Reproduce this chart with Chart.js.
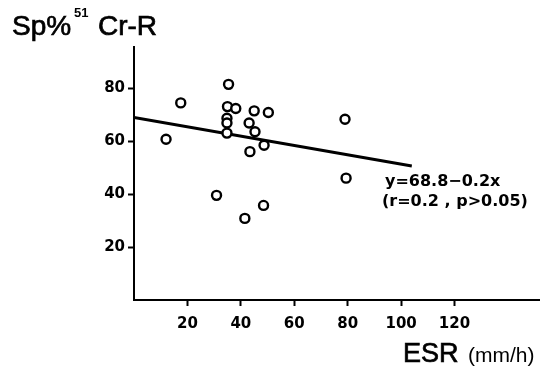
<!DOCTYPE html>
<html>
<head>
<meta charset="utf-8">
<script src="https://cdn.jsdelivr.net/npm/chart.js@4/dist/chart.umd.min.js"></script>
<style>
    html, body { margin: 0; padding: 0; background: #fff; }
    #wrap { width: 540px; height: 369px; }
</style>
</head>
<body>
<div id="wrap"><canvas id="esrChart" width="540" height="369"></canvas></div>
<script>
// ESR (mm/h) vs spleen % of 51Cr-labelled red cells
const esrValues = [12, 17.5, 35.4, 35, 38.1, 45, 50.3, 34.8, 34.8, 43.1, 34.8, 45.3, 43.4, 48.7, 30.9, 41.5, 48.5, 79, 79.4];
const spValues = [60.7, 74.4, 81.4, 73, 72.3, 71.4, 70.8, 68.6, 66.8, 66.8, 63, 63.5, 56, 58.4, 39.5, 30.8, 35.7, 68.2, 46];

// regression line as drawn in the figure
const fitX = [0, 104];
const fitY = [68.9, 50.6];

const xTicks = [20, 40, 60, 80, 100, 120];
const yTicks = [20, 40, 60, 80];
const fitLabel = ['y=68.8\u22120.2x', '(r=0.2 , p>0.05)'];

document.addEventListener('DOMContentLoaded', function() {
    const ctx = document.getElementById('esrChart').getContext('2d');

    // Axis titles and the regression note
    const textPlugin = {
        id: 'textPlugin',
        afterDraw(chart) {
            const c = chart.ctx;
            c.save();
            c.fillStyle = '#000';
            c.strokeStyle = '#000';
            c.lineWidth = 0.7;
            c.textBaseline = 'alphabetic';
            c.textAlign = 'left';

            // slight stroke to thicken the regular face
            c.font = '28px "Liberation Sans", Arial, sans-serif';
            c.fillText('Sp%', 12, 35);
            c.strokeText('Sp%', 12, 35);
            c.fillText('Cr-R', 98, 35);
            c.strokeText('Cr-R', 98, 35);
            c.font = 'bold 13px "Liberation Sans", Arial, sans-serif';
            c.fillText('51', 74, 17);

            c.font = '27px "Liberation Sans", Arial, sans-serif';
            c.fillText('ESR', 403, 362);
            c.strokeText('ESR', 403, 362);
            c.font = '21px "Liberation Sans", Arial, sans-serif';
            c.fillText('(mm/h)', 468, 362);

            c.font = 'bold 16px "DejaVu Sans", sans-serif';
            c.textBaseline = 'middle';
            c.fillText(fitLabel[0], 385, 182);
            c.fillText(fitLabel[1], 382, 202);
            c.restore();
        }
    };

    new Chart(ctx, {
        type: 'scatter',
        data: {
            datasets: [
                {
                    label: 'patients',
                    data: esrValues.map((x, i) => ({ x: x, y: spValues[i] })),
                    pointRadius: 4.5,
                    pointBorderWidth: 2.4,
                    pointBorderColor: '#000',
                    pointBackgroundColor: '#fff'
                },
                {
                    label: 'fit',
                    type: 'line',
                    data: fitX.map((x, i) => ({ x: x, y: fitY[i] })),
                    borderColor: '#000',
                    borderWidth: 3,
                    pointRadius: 0,
                    order: 1
                }
            ]
        },
        options: {
            responsive: false,
            animation: false,
            devicePixelRatio: 1,
            // no extra room for point overflow, the axes sit at fixed pixels
            layout: { autoPadding: false, padding: { top: 47, right: 0, left: 0, bottom: 0 } },
            plugins: {
                legend: { display: false },
                tooltip: { enabled: false }
            },
            scales: {
                x: {
                    type: 'linear',
                    min: 0,
                    max: 152,
                    afterBuildTicks: function(scale) {
                        scale.ticks = xTicks.map(v => ({ value: v }));
                    },
                    afterFit: function(scale) {
                        scale.height = 69;
                        scale.paddingRight = 0;
                        scale.paddingLeft = 0;
                    },
                    border: { display: true, color: '#000', width: 2 },
                    grid: { drawOnChartArea: false, tickLength: 6, tickWidth: 2, tickColor: '#000' },
                    ticks: {
                        color: '#000',
                        padding: 9,
                        maxRotation: 0,
                        font: { family: 'DejaVu Sans', size: 15, weight: 'bold' }
                    }
                },
                y: {
                    type: 'linear',
                    min: 0,
                    max: 95.5,
                    afterBuildTicks: function(scale) {
                        scale.ticks = yTicks.map(v => ({ value: v }));
                    },
                    afterFit: function(scale) { scale.width = 134; },
                    border: { display: true, color: '#000', width: 2 },
                    grid: { drawOnChartArea: false, tickLength: 6, tickWidth: 2, tickColor: '#000' },
                    ticks: {
                        color: '#000',
                        padding: 3,
                        font: { family: 'DejaVu Sans', size: 15, weight: 'bold' }
                    }
                }
            }
        },
        plugins: [textPlugin]
    });
});
</script>
</body>
</html>
